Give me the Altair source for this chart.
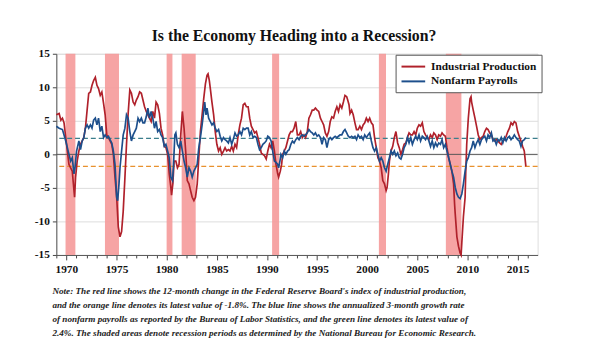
import altair as alt
import pandas as pd

# ---- data ----
ip_year = [1969.00, 1969.28, 1969.45, 1969.61, 1969.77, 1969.94, 1970.10, 1970.26, 1970.43, 1970.59,
           1970.82, 1970.92, 1971.08, 1971.25, 1971.41, 1971.58, 1971.74, 1971.90, 1972.07, 1972.23,
           1972.40, 1972.56, 1972.72, 1972.89, 1973.05, 1973.21, 1973.38, 1973.54, 1973.71, 1973.87,
           1974.03, 1974.20, 1974.36, 1974.53, 1974.69, 1974.85, 1975.02, 1975.18, 1975.35, 1975.51,
           1975.67, 1975.84, 1976.00, 1976.16, 1976.33, 1976.49, 1976.66, 1976.82, 1976.98, 1977.15,
           1977.31, 1977.48, 1977.64, 1977.80, 1977.97,
           1978.13, 1978.46, 1978.62, 1978.79, 1978.95, 1979.11, 1979.28, 1979.44, 1979.60, 1979.77,
           1979.93, 1980.10, 1980.16, 1980.26, 1980.42, 1980.49, 1980.62, 1980.75, 1980.92, 1981.08,
           1981.24, 1981.41, 1981.57, 1981.74, 1981.90, 1982.06, 1982.23, 1982.39, 1982.55, 1982.72,
           1982.88, 1983.05, 1983.21, 1983.37, 1983.54, 1983.70, 1983.87, 1984.03, 1984.13, 1984.26,
           1984.36, 1984.52, 1984.69, 1984.85, 1985.01, 1985.18, 1985.34, 1985.50, 1985.67, 1985.83,
           1985.99, 1986.16, 1986.32, 1986.49, 1986.65, 1986.82, 1986.98, 1987.14, 1987.31, 1987.47,
           1987.64, 1987.80, 1987.96,
           1988.13, 1988.29, 1988.45, 1988.62, 1988.78, 1988.95, 1989.11, 1989.27, 1989.44, 1989.60,
           1989.76, 1989.93, 1990.09, 1990.26, 1990.42, 1990.58, 1990.75, 1990.91, 1991.08, 1991.17,
           1991.34, 1991.47, 1991.57, 1991.73, 1991.89, 1992.06, 1992.22, 1992.39, 1992.55, 1992.71,
           1992.88, 1993.04, 1993.21, 1993.37, 1993.53, 1993.70, 1993.86, 1994.03, 1994.19, 1994.35,
           1994.52, 1994.68, 1994.84, 1995.01, 1995.17, 1995.34, 1995.50, 1995.66, 1995.83, 1995.99,
           1996.16, 1996.32, 1996.48, 1996.65, 1996.81, 1996.98, 1997.14, 1997.30,
           1997.47, 1997.63, 1997.79, 1997.96, 1998.06, 1998.19, 1998.29, 1998.45, 1998.61, 1998.78,
           1998.94, 1999.10, 1999.27, 1999.43, 1999.60, 1999.76, 1999.92, 2000.09, 2000.25, 2000.42,
           2000.58, 2000.74, 2000.91, 2001.07, 2001.23, 2001.40, 2001.56, 2001.73, 2001.89, 2001.99,
           2002.12, 2002.22, 2002.38, 2002.55, 2002.71, 2002.87, 2003.04, 2003.20, 2003.37, 2003.53,
           2003.69, 2003.86, 2004.02, 2004.18, 2004.35, 2004.51, 2004.68, 2004.84, 2005.00, 2005.17,
           2005.33, 2005.50, 2005.66, 2005.82, 2005.99, 2006.15,
           2006.32, 2006.49, 2006.65, 2006.82, 2006.98, 2007.14, 2007.31, 2007.47, 2007.63, 2007.80,
           2007.96, 2008.13, 2008.29, 2008.45, 2008.62, 2008.72, 2008.78, 2008.95, 2009.11, 2009.27,
           2009.37, 2009.44, 2009.60, 2009.77, 2009.83, 2009.93, 2010.09, 2010.26, 2010.36, 2010.42,
           2010.58, 2010.75, 2010.91, 2011.08, 2011.24, 2011.40, 2011.57, 2011.73, 2011.90, 2012.06,
           2012.22, 2012.39, 2012.55, 2012.72, 2012.88, 2013.04, 2013.21, 2013.37, 2013.53, 2013.70,
           2013.86, 2014.03, 2014.19, 2014.35, 2014.52, 2014.68, 2014.84, 2015.01, 2015.17, 2015.34,
           2015.50, 2015.67, 2015.83]
ip_val = [5.9, 6.1, 5.1, 5.4, 4.7, 2.5, 0.5, -1.5, -2.0, -2.5,
          -6.4, -3.4, -1.0, 0.5, 1.5, 2.0, 2.5, 3.9, 6.6, 9.1,
          9.3, 10.3, 11.0, 11.5, 10.3, 9.8, 8.8, 9.3, 7.6, 5.9,
          2.9, 2.5, 2.0, 1.5, 0.0, -3.4, -6.4, -10.8, -12.3, -11.5,
          -8.5, -3.5, 1.5, 6.0, 9.6, 9.1, 7.8, 7.4, 8.1, 8.6,
          9.3, 9.1, 8.1, 7.1, 6.4,
          5.9, 4.9, 6.4, 5.4, 7.8, 7.4, 6.1, 3.9, 2.9, 1.2,
          1.0, 0.0, -1.0, -2.9, -4.9, -6.1, -4.4, -1.0, -1.0, -2.0,
          -1.5, 2.9, 6.4, 3.9, 0.5, -3.9, -4.4, -5.4, -6.4, -6.9,
          -6.4, -4.4, -0.5, 3.4, 5.9, 8.3, 10.5, 11.8, 12.0, 11.0,
          9.8, 7.8, 5.9, 3.4, 1.5, 0.5, 1.0, 0.0, 0.5, 1.0,
          0.5, 0.7, 0.5, 1.2, 0.5, 1.5, 1.0, 2.9, 4.4, 5.4,
          7.4, 7.6, 7.1,
          7.1, 5.4, 4.2, 3.7, 3.2, 3.4, 2.5, 1.5, 0.2, 0.0,
          -0.2, -0.7, 0.5, 1.5, 1.0, 2.0, 0.5, -1.5, -2.9, -3.4,
          -2.5, -1.5, 0.0, 0.5, 1.0, 2.0, 2.9, 3.4, 3.4, 3.9,
          4.9, 2.9, 2.9, 3.4, 2.5, 2.9, 2.5, 3.4, 5.4, 5.9,
          6.6, 6.6, 6.9, 6.6, 6.4, 5.4, 4.9, 4.4, 3.2, 2.7,
          3.4, 4.9, 5.6, 5.4, 6.4, 7.1, 6.4, 7.4,
          6.9, 7.8, 8.8, 8.6, 8.1, 7.4, 6.1, 6.6, 5.9, 4.7,
          3.7, 3.7, 4.2, 3.7, 4.4, 4.7, 5.4, 4.9, 5.4, 4.7,
          4.4, 2.5, 1.0, -0.5, -1.0, -2.0, -3.9, -4.4, -5.4, -4.9,
          -2.9, -1.0, 0.5, 1.2, 2.5, 3.4, 1.7, 1.0, 0.0, 0.7,
          1.5, 1.7, 2.5, 3.2, 2.9, 2.9, 3.4, 2.9, 3.9, 4.4,
          4.2, 4.7, 3.4, 2.9, 2.5, 2.2,
          2.9, 2.5, 3.2, 2.9, 2.2, 2.9, 2.7, 3.2, 2.9, 2.7,
          1.0, -0.5, -1.5, -2.5, -4.4, -7.4, -8.8, -12.3, -13.7, -14.7,
          -15.0, -13.2, -9.3, -6.4, -2.9, 1.5, 5.4, 8.3, 8.6, 7.8,
          6.6, 5.4, 4.2, 2.9, 2.2, 2.5, 2.7, 3.4, 3.9, 3.7,
          3.2, 2.9, 2.2, 2.0, 2.2, 2.0, 1.7, 1.5, 2.0, 2.2,
          2.7, 3.4, 3.9, 4.7, 4.4, 4.9, 4.7, 3.4, 2.7, 2.0,
          1.2, 0.5, -1.8]

nfp_year = [1969.00, 1969.28, 1969.61, 1969.77, 1969.94, 1970.10, 1970.26, 1970.43, 1970.59, 1970.76,
            1970.86, 1971.02, 1971.25, 1971.41, 1971.58, 1971.74, 1971.90, 1972.07, 1972.23, 1972.40,
            1972.56, 1972.72, 1972.89, 1973.05, 1973.21, 1973.38, 1973.54, 1973.71, 1973.87, 1974.03,
            1974.20, 1974.36, 1974.53, 1974.69, 1974.85, 1975.02, 1975.12, 1975.25, 1975.35, 1975.51,
            1975.67, 1975.84, 1976.00, 1976.16, 1976.33, 1976.49, 1976.66, 1976.82, 1976.98, 1977.15,
            1977.31, 1977.48, 1977.64, 1977.80, 1977.97,
            1978.13, 1978.29, 1978.46, 1978.62, 1978.79, 1978.95, 1979.11, 1979.28, 1979.44, 1979.60,
            1979.77, 1979.93, 1980.10, 1980.26, 1980.42, 1980.59, 1980.69, 1980.82, 1980.92, 1981.08,
            1981.24, 1981.41, 1981.57, 1981.74, 1981.90, 1982.06, 1982.23, 1982.39, 1982.55, 1982.72,
            1982.88, 1983.05, 1983.21, 1983.37, 1983.54, 1983.70, 1983.80, 1983.93, 1984.03, 1984.19,
            1984.36, 1984.52, 1984.69, 1984.85, 1985.01, 1985.18, 1985.34, 1985.50, 1985.67, 1985.83,
            1985.99, 1986.16, 1986.32, 1986.49, 1986.65, 1986.82, 1986.98, 1987.14, 1987.31, 1987.47,
            1987.64, 1987.80, 1987.96,
            1988.13, 1988.29, 1988.45, 1988.62, 1988.78, 1988.95, 1989.11, 1989.27, 1989.44, 1989.60,
            1989.76, 1989.93, 1990.09, 1990.26, 1990.42, 1990.58, 1990.75, 1990.91, 1991.08, 1991.17,
            1991.30, 1991.40, 1991.57, 1991.73, 1991.89, 1992.06, 1992.22, 1992.39, 1992.55, 1992.71,
            1992.88, 1993.04, 1993.21, 1993.37, 1993.53, 1993.70, 1993.86, 1994.03, 1994.19, 1994.35,
            1994.52, 1994.68, 1994.84, 1995.01, 1995.17, 1995.34, 1995.50, 1995.66, 1995.83, 1995.99,
            1996.16, 1996.32, 1996.48, 1996.65, 1996.81, 1996.98, 1997.14, 1997.30,
            1997.47, 1997.63, 1997.79, 1997.96, 1998.12, 1998.29, 1998.45, 1998.61, 1998.78, 1998.94,
            1999.10, 1999.27, 1999.43, 1999.60, 1999.76, 1999.92, 2000.09, 2000.25, 2000.42, 2000.58,
            2000.74, 2000.91, 2001.07, 2001.23, 2001.40, 2001.56, 2001.73, 2001.89, 2002.05, 2002.22,
            2002.38, 2002.55, 2002.71, 2002.87, 2003.04, 2003.20, 2003.37, 2003.53, 2003.69, 2003.86,
            2004.02, 2004.18, 2004.35, 2004.51, 2004.68, 2004.84, 2005.00, 2005.17, 2005.33, 2005.50,
            2005.66, 2005.82, 2005.99, 2006.16,
            2006.32, 2006.49, 2006.65, 2006.82, 2006.98, 2007.14, 2007.31, 2007.47, 2007.63, 2007.80,
            2007.96, 2008.13, 2008.29, 2008.45, 2008.62, 2008.78, 2008.95, 2009.11, 2009.27, 2009.44,
            2009.60, 2009.77, 2009.93, 2010.09, 2010.26, 2010.42, 2010.58, 2010.75, 2010.91, 2011.08,
            2011.24, 2011.40, 2011.57, 2011.73, 2011.90, 2012.06, 2012.22, 2012.39, 2012.55, 2012.72,
            2012.88, 2013.04, 2013.21, 2013.37, 2013.53, 2013.70, 2013.86, 2014.03, 2014.19, 2014.35,
            2014.52, 2014.68, 2014.84, 2015.01, 2015.17, 2015.34, 2015.50, 2015.67, 2015.83]
nfp_val = [4.2, 3.9, 3.7, 2.9, 2.0, 1.0, 0.0, -1.0, -0.5, -2.9,
           -2.0, 0.5, 2.0, 0.7, 2.0, 2.5, 3.9, 4.4, 3.9, 4.4,
           3.9, 5.1, 5.4, 4.4, 5.4, 3.4, 4.2, 2.5, 2.9, 2.5,
           2.7, 2.2, 1.7, 0.5, -1.5, -6.4, -6.9, -4.4, -2.0, 0.5,
           2.9, 3.9, 5.9, 5.4, 3.4, 2.0, 2.9, 3.4, 3.9, 5.4,
           4.9, 5.4, 4.7, 4.7, 5.6,
           6.9, 5.4, 6.4, 5.4, 3.9, 4.9, 3.4, 3.7, 2.9, 2.5,
           1.2, 1.5, 0.5, -0.5, -3.4, -3.9, -1.5, 2.9, 3.2, 1.5,
           1.0, 2.0, 0.5, -1.0, -2.0, -3.4, -2.0, -2.5, -3.4, -2.5,
           -2.0, -1.5, 1.0, 2.5, 4.4, 6.4, 7.8, 5.9, 6.9, 5.4,
           4.9, 4.4, 4.7, 3.9, 3.4, 3.7, 2.7, 2.0, 2.5, 2.2,
           2.0, 1.7, 2.5, 1.5, 2.2, 3.2, 2.7, 2.9, 3.4, 2.9,
           3.9, 3.7, 3.9,
           3.9, 2.9, 3.4, 2.5, 2.7, 2.5, 1.5, 0.7, 1.0, 1.5,
           1.7, 2.0, 2.7, 2.5, 2.0, 0.5, -1.0, -1.2, -1.5, -2.0,
           -1.0, 0.0, -0.5, 0.5, 0.0, 0.5, 0.7, 1.5, 2.0, 1.7,
           2.2, 2.5, 2.2, 2.7, 2.9, 2.7, 2.9, 3.2, 3.7, 3.4,
           3.2, 2.9, 3.2, 2.7, 2.9, 2.5, 1.5, 2.5, 2.2, 1.0,
           2.2, 2.5, 2.2, 2.5, 2.7, 2.5, 2.7, 2.9,
           2.9, 3.4, 3.7, 3.2, 2.7, 2.5, 2.7, 2.5, 2.7, 2.2,
           2.9, 2.5, 2.7, 2.2, 2.9, 2.5, 2.9, 3.2, 2.0, 1.0,
           0.5, 1.0, 0.0, -1.0, -0.5, -1.0, -2.0, -2.5, -1.5, -0.5,
           0.5, 0.0, 0.5, -0.2, 0.2, -0.5, -0.7, 0.0, 1.0, 1.5,
           2.5, 1.7, 2.5, 1.5, 2.2, 2.7, 2.2, 2.9, 2.0, 2.7,
           2.5, 2.2, 2.7, 2.0,
           1.2, 2.0, 1.0, 1.7, 1.2, 1.7, 1.5, 2.2, 1.0, 1.5,
           0.5, -0.5, -1.5, -2.5, -3.4, -4.9, -5.9, -6.4, -6.6, -5.9,
           -4.4, -2.5, -1.0, -0.5, 0.5, 1.0, 2.0, 1.0, 1.7, 2.2,
           1.5, 2.2, 2.5, 2.7, 2.0, 2.9, 2.5, 3.2, 2.0, 2.2,
           1.5, 2.2, 2.0, 2.5, 1.7, 2.5, 2.0, 2.5, 2.7, 2.2,
           2.5, 2.9, 2.5, 2.2, 2.0, 1.2, 2.0, 2.2, 2.5]

rec_start = [1969.92, 1973.85, 1980.00, 1981.50, 1990.52, 2001.17, 2007.85]
rec_end = [1970.90, 1975.25, 1980.58, 1982.90, 1991.22, 2001.88, 2009.40]

series_names = ["Industrial Production", "Nonfarm Payrolls"]
series_colors = ["#B0212B", "#1D4F8C"]
ip_latest = -1.8
nfp_latest = 2.4

year_ticks = list(range(1969, 2017))
y_ticks = [-15, -10, -5, 0, 5, 10, 15]

note_lines = [
    "Note: The red line shows the 12-month change in the Federal Reserve Board's index of industrial production,",
    "and the orange line denotes its latest value of -1.8%. The blue line shows the annualized 3-month growth rate",
    "of nonfarm payrolls as reported by the Bureau of Labor Statistics, and the green line denotes its latest value of",
    "2.4%. The shaded areas denote recession periods as determined by the National Bureau for Economic Research.",
]

SERIF = "Liberation Serif"

# ---- tables ----
df = pd.concat([
    pd.DataFrame({"year": ip_year, "value": ip_val, "series": series_names[0]}),
    pd.DataFrame({"year": nfp_year, "value": nfp_val, "series": series_names[1]}),
], ignore_index=True)
rec = pd.DataFrame({"start": rec_start, "end": rec_end})
one = pd.DataFrame({"k": [0]})

xscale = alt.Scale(domain=[1969.0, 2017.0], nice=False, zero=False)
yscale = alt.Scale(domain=[-15, 15], nice=False)

x_axis = alt.Axis(
    values=year_ticks, title=None, grid=False,
    labelExpr="datum.value % 5 === 0 ? '' + datum.value : ''",
    labelOverlap=False, labelFlush=False, labelBound=False,
    labelFont=SERIF, labelFontWeight="bold", labelFontSize=11.5, labelColor="#111",
    labelPadding=4,
    tickSize={"condition": {"test": "datum.value % 5 === 0", "value": 5}, "value": 3},
    tickColor="#444", domainColor="#555",
)
y_axis = alt.Axis(
    values=y_ticks, title=None, grid=True, gridColor="#dcdcdc",
    labelExpr="'' + datum.value",
    labelOverlap=False, labelBound=False,
    labelFont=SERIF, labelFontWeight="bold", labelFontSize=11.5, labelColor="#111",
    labelPadding=3, tickSize=4, tickColor="#444", domainColor="#555", labelFlush=False,
)

shade = alt.Chart(rec).mark_rect(color="#F59A9A", opacity=0.9).encode(
    x=alt.X("start:Q", scale=xscale, axis=x_axis),
    x2="end:Q",
    y=alt.Y(datum=15, scale=yscale, axis=y_axis),
    y2=alt.datum(-15),
)

zero = alt.Chart(one).mark_rule(color="#555", strokeWidth=1).encode(
    y=alt.Y(datum=0, scale=yscale, axis=y_axis))
ip_rule = alt.Chart(one).mark_rule(color="#E8912E", strokeWidth=1.3, strokeDash=[5, 3]).encode(
    y=alt.Y(datum=ip_latest, scale=yscale, axis=y_axis))
nfp_rule = alt.Chart(one).mark_rule(color="#3A7E8C", strokeWidth=1.3, strokeDash=[5, 3]).encode(
    y=alt.Y(datum=nfp_latest, scale=yscale, axis=y_axis))

lines = alt.Chart(df).mark_line(strokeWidth=1.7).encode(
    x=alt.X("year:Q", scale=xscale, axis=x_axis),
    y=alt.Y("value:Q", scale=yscale, axis=y_axis),
    color=alt.Color("series:N",
                    scale=alt.Scale(domain=series_names, range=series_colors),
                    legend=alt.Legend(
                        orient="none", legendX=344, legendY=1, title=None,
                        symbolType="M-2,0H2", symbolStrokeWidth=2, symbolSize=144,
                        symbolOffset=6,
                        labelFont=SERIF, labelFontWeight="bold", labelFontSize=11.5,
                        labelColor="#111", strokeColor="#555", fillColor="white",
                        padding=5, rowPadding=2, labelOffset=11,
                    )),
    order=alt.Order("year:Q"),
)

note = alt.Chart(one).mark_text(
    text=note_lines, align="left", baseline="alphabetic", font=SERIF,
    fontStyle="italic", fontWeight="bold", fontSize=9.3, lineHeight=14, color="#222",
).encode(x=alt.value(-4), y=alt.value(244))

chart = alt.layer(shade, zero, ip_rule, nfp_rule, lines, note).properties(
    width=488, height=204,
    title=alt.Title("Is the Economy Heading into a Recession?", font=SERIF, fontSize=16,
                    fontWeight="bold", color="#111", anchor="middle", dx=-3, offset=4),
    autosize=alt.AutoSizeParams(type="none"),
    padding={"left": 49, "top": 44, "right": 44, "bottom": 97},
).configure_view(stroke="#666", strokeWidth=1).configure_axis(
    labelOverlap=False
).configure(background="white")

chart.save("out.html", embed_options={"renderer": "svg", "actions": False})
